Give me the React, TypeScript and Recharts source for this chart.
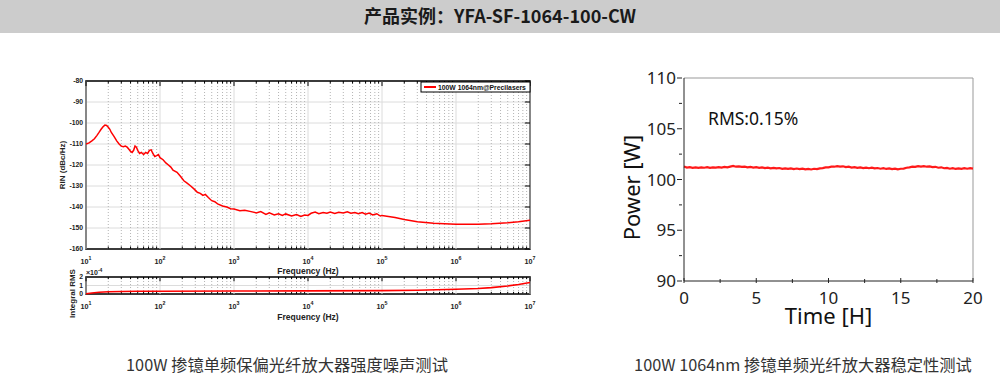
import { LineChart, Line, XAxis, YAxis, CartesianGrid, ReferenceLine, ReferenceArea, Label } from 'recharts'

// RIN spectrum, 100W amplifier
const RIN_FREQ = [
  10, 11, 12, 13, 14, 15, 16, 17, 18, 19,
  20, 21, 22, 24, 26, 28, 30, 32, 34, 36,
  38, 40, 42, 44, 46, 48, 50, 53, 56, 60,
  64, 68, 72, 76, 80, 85, 90, 95, 100, 110,
  120, 130, 140, 150, 170, 190, 210, 230, 260, 290,
  320, 350, 380, 410, 450, 500, 550, 600, 700, 800,
  900, 1000, 1200, 1400, 1700, 2000, 2300, 2700, 3000, 3500,
  4000, 4500, 5000, 6000, 7000, 8000, 9000, 10000, 11000, 12500,
  14000, 16000, 18000, 20000, 23000, 26000, 30000, 34000, 38000, 43000,
  48000, 54000, 60000, 67000, 75000, 85000, 95000, 100000, 150000, 200000,
  300000, 500000, 700000, 1e6, 1.5e6, 2e6, 3e6, 5e6, 7e6, 1e7,
]
const RIN_DB = [
  -110, -109.5, -108.5, -107.5, -106, -104.5, -103, -101.8, -101, -101.2,
  -102, -103, -104.5, -106.5, -108.5, -110, -111, -111.3, -111, -111.5,
  -112.5, -113.5, -114, -113, -111, -111.5, -113, -114.5, -114, -115,
  -114, -114.5, -113, -112.8, -114.5, -116, -115.5, -115, -116.5, -117.5,
  -119, -120, -121, -122.5, -123.5, -125.5, -127.5, -128.5, -130, -131.5,
  -133, -133.5, -134.5, -134, -135.5, -137, -137.5, -138.5, -139.5, -140,
  -140.8, -141, -141.8, -141.5, -142.2, -142.8, -142.2, -143.5, -142.8, -143.8,
  -143.2, -144, -143.3, -144.3, -143.6, -144.5, -143.8, -144, -143, -142.4,
  -143.2, -142.6, -143, -142.4, -143.1, -142.5, -142.9, -142.3, -143, -142.6,
  -143.2, -142.6, -143.4, -142.9, -143.8, -143.2, -144.3, -144, -145, -146,
  -147, -147.7, -148, -148.2, -148.2, -148.2, -148, -147.5, -147, -146.3,
]

// integrated RMS (x1e-4)
const RMS_FREQ = [10, 12, 15, 20, 30, 50, 100, 1e3, 1e4, 1e5, 3e5, 1e6, 2e6, 3e6, 5e6, 7e6, 1e7]
const RMS_VAL = [0.02, 0.12, 0.2, 0.26, 0.3, 0.32, 0.33, 0.35, 0.37, 0.4, 0.45, 0.55, 0.65, 0.75, 0.95, 1.12, 1.35]

const DECADES = [10, 100, 1e3, 1e4, 1e5, 1e6, 1e7]
const MINOR = DECADES.slice(0, -1).flatMap(d => [2, 3, 4, 5, 6, 7, 8, 9].map(k => k * d))
const RIN_TICKS = [-160, -150, -140, -130, -120, -110, -100, -90, -80]
const RMS_TICKS = [0, 1, 2]

// power stability, one sample every 0.2 h
const POWER = [
  101.28, 101.18, 101.22, 101.15, 101.2, 101.14, 101.19, 101.16, 101.21, 101.15,
  101.2, 101.17, 101.22, 101.18, 101.24, 101.2, 101.27, 101.33, 101.26, 101.3,
  101.24, 101.27, 101.2, 101.24, 101.17, 101.21, 101.14, 101.19, 101.12, 101.17,
  101.1, 101.15, 101.09, 101.13, 101.05, 101.1, 101.04, 101.09, 101.03, 101.08,
  101.02, 101.07, 101.0, 101.05, 100.99, 101.06, 101.03, 101.1, 101.12, 101.19,
  101.2, 101.27, 101.26, 101.32, 101.27, 101.3, 101.23, 101.26, 101.18, 101.22,
  101.15, 101.19, 101.13, 101.17, 101.11, 101.16, 101.09, 101.13, 101.06, 101.11,
  101.04, 101.09, 101.02, 101.07, 101.0, 101.06, 101.08, 101.16, 101.2, 101.26,
  101.24, 101.31, 101.27, 101.32, 101.26, 101.29, 101.22, 101.25, 101.16, 101.2,
  101.11, 101.15, 101.06, 101.11, 101.04, 101.1, 101.05, 101.11, 101.06, 101.12,
  101.07,
]
const TIME_TICKS = [0, 2.5, 5, 7.5, 10, 12.5, 15, 17.5, 20]
const POWER_TICKS = [90, 92.5, 95, 97.5, 100, 102.5, 105, 107.5, 110]

const ARIAL = '"Liberation Sans", Arial, sans-serif'
const NOTO = '"Noto Sans", sans-serif'
const CJK = '"Noto Sans CJK SC", "Noto Sans", sans-serif'

const rinData = RIN_FREQ.map((f, i) => ({ f, v: RIN_DB[i] }))
const rmsData = RMS_FREQ.map((f, i) => ({ f, v: RMS_VAL[i] }))
const powerData = POWER.map((p, i) => ({ t: i * 0.2, p }))

function LogTick({ x, y, payload }: any) {
  const exp = Math.round(Math.log10(payload.value))
  return (
    <text x={x} y={y + 13} textAnchor="middle" fontSize={7.2} fontWeight="bold" fill="#222" fontFamily={ARIAL}>
      10<tspan dy={-4} fontSize={5.3}>{exp}</tspan>
    </text>
  )
}

function TimeTick({ x, y, payload }: any) {
  const major = payload.value % 5 === 0
  return (
    <g>
      <line x1={x} x2={x} y1={y} y2={y - (major ? 5 : 4)} stroke="#222" />
      {major && <text x={x} y={y + 21} textAnchor="middle" fontSize={17} fill="#222" fontFamily={NOTO}>{payload.value}</text>}
    </g>
  )
}

function PowerTick({ x, y, payload }: any) {
  const major = payload.value % 5 === 0
  return (
    <g>
      <line x1={x} x2={x - (major ? 5 : 3)} y1={y} y2={y} stroke="#222" />
      {major && <text x={x - 6} y={y + 6} textAnchor="end" fontSize={17} fill="#222" fontFamily={NOTO}>{payload.value}</text>}
    </g>
  )
}

// grid + inward ticks shared by the two log plots
function logDecor(yMin: number, yMax: number, tickLen: number) {
  return [
    ...DECADES.map(d => <ReferenceLine key={'d' + d} x={d} stroke="#dcdcdc" strokeWidth={1} />),
    ...MINOR.map(m => <ReferenceLine key={'m' + m} x={m} stroke="#b4b4b4" strokeDasharray="1 2" />),
    ...MINOR.map(m => <ReferenceLine key={'tt' + m} segment={[{ x: m, y: yMax }, { x: m, y: yMax - tickLen }]} stroke="#000" />),
    ...MINOR.map(m => <ReferenceLine key={'tb' + m} segment={[{ x: m, y: yMin }, { x: m, y: yMin + tickLen }]} stroke="#000" />),
    ...DECADES.map(d => <ReferenceLine key={'dt' + d} segment={[{ x: d, y: yMax }, { x: d, y: yMax - tickLen * 2 }]} stroke="#000" />),
    <ReferenceArea key="frame" x1={10} x2={1e7} y1={yMin} y2={yMax} fill="none" stroke="#000" strokeWidth={1.6} />,
  ]
}

export default function App() {
  return (
    <div style={{ position: 'absolute', left: 0, top: 0, width: 1000, height: 375, background: '#fff', overflow: 'hidden' }}>
      <div style={{ position: 'absolute', left: 0, top: 0, width: 1000, height: 33, background: '#cccccc' }} />

      {/* RIN spectrum */}
      <div style={{ position: 'absolute', left: 0, top: 60 }}>
        <LineChart width={560} height={220} data={rinData} margin={{ top: 21, right: 30, left: 0, bottom: 0 }}>
          <CartesianGrid vertical={false} stroke="#dcdcdc" />
          <XAxis dataKey="f" type="number" scale="log" domain={[10, 1e7]} ticks={DECADES} allowDataOverflow
            height={31} axisLine={false} tickLine={false} tickSize={0} tick={<LogTick />} interval={0}>
            <Label value="Frequency (Hz)" position="center" dy={6} fontSize={8.5} fontWeight="bold" fill="#222" stroke="none" fontFamily={ARIAL} />
          </XAxis>
          <YAxis type="number" domain={[-160, -80]} ticks={RIN_TICKS} width={86} axisLine={false} tickLine={false}
            tickSize={0} tickMargin={3} interval={0} tick={{ fontSize: 6.8, fontWeight: 'bold', fill: '#222', fontFamily: ARIAL }}>
            <Label value="RIN (dBc/Hz)" angle={-90} position="center" dx={19} fontSize={8} fontWeight="bold" fill="#222" stroke="none" fontFamily={ARIAL} />
          </YAxis>
          {logDecor(-160, -80, 1.2)}
          {RIN_TICKS.map(t => <ReferenceLine key={'rt' + t} segment={[{ x: 8.5e6, y: t }, { x: 1e7, y: t }]} stroke="#000" />)}
          <Line dataKey="v" stroke="#ff0000" strokeWidth={1.5} dot={false} isAnimationActive={false} />
        </LineChart>
      </div>

      {/* integral RMS */}
      <div style={{ position: 'absolute', left: 0, top: 262 }}>
        <LineChart width={560} height={64} data={rmsData} margin={{ top: 15, right: 30, left: 0, bottom: 0 }}>
          <CartesianGrid vertical={false} stroke="#dcdcdc" />
          <XAxis dataKey="f" type="number" scale="log" domain={[10, 1e7]} ticks={DECADES} allowDataOverflow
            height={32} axisLine={false} tickLine={false} tickSize={0} tick={<LogTick />} interval={0}>
            <Label value="Frequency (Hz)" position="center" dy={7} fontSize={8.5} fontWeight="bold" fill="#222" stroke="none" fontFamily={ARIAL} />
          </XAxis>
          <YAxis type="number" domain={[0, 2]} ticks={RMS_TICKS} width={86} axisLine={false} tickLine={false}
            tickSize={0} tickMargin={3} interval={0} tick={{ fontSize: 6.8, fontWeight: 'bold', fill: '#222', fontFamily: ARIAL }}>
            <Label value="Integral RMS" angle={-90} position="center" dx={29} dy={8} fontSize={8} fontWeight="bold" fill="#222" stroke="none" fontFamily={ARIAL} />
          </YAxis>
          {logDecor(0, 2, 0.25)}
          <Line dataKey="v" stroke="#ff0000" strokeWidth={1.6} dot={false} isAnimationActive={false} />
        </LineChart>
      </div>

      {/* power stability */}
      <div style={{ position: 'absolute', left: 600, top: 60 }}>
        <LineChart width={400} height={280} data={powerData} margin={{ top: 18, right: 27, left: 0, bottom: 0 }}>
          <XAxis dataKey="t" type="number" domain={[0, 20]} ticks={TIME_TICKS} interval={0} height={59}
            axisLine={{ stroke: '#222' }} tickLine={false} tickSize={0} tick={<TimeTick />}>
            <Label value="Time [H]" position="center" dy={6} fontSize={22} fill="#111" stroke="none" fontFamily={NOTO} />
          </XAxis>
          <YAxis type="number" domain={[90, 110]} ticks={POWER_TICKS} interval={0} width={84}
            axisLine={{ stroke: '#222' }} tickLine={false} tickSize={0} tick={<PowerTick />}>
            <Label value="Power [W]" angle={-90} position="center" dx={-10} dy={8} fontSize={22} fill="#111" stroke="none" fontFamily={NOTO} />
          </YAxis>
          <ReferenceLine y={110} stroke="#999" />
          <ReferenceLine x={20} stroke="#999" />
          <Line dataKey="p" stroke="#ff1a1a" strokeWidth={2.2} dot={false} isAnimationActive={false} />
        </LineChart>
      </div>

      <svg width={1000} height={375} style={{ position: 'absolute', left: 0, top: 0, pointerEvents: 'none' }}>
        <text x={500} y={23} textAnchor="middle" fontSize={18} fontWeight="bold" fill="#1a1a1a" fontFamily={CJK}>
          产品实例：YFA-SF-1064-100-CW
        </text>
        <rect x={421} y={82} width={109} height={10} fill="#fff" stroke="#000" strokeWidth={1} />
        <line x1={424} x2={436} y1={87} y2={87} stroke="#ff0000" strokeWidth={2} />
        <text x={438} y={90} fontSize={6.8} fontWeight="bold" fill="#111" fontFamily={ARIAL}>100W 1064nm@Precilasers</text>
        <text x={86} y={275} fontSize={7} fontWeight="bold" fill="#222" fontFamily={ARIAL}>
          ×10<tspan dy={-3} fontSize={5}>-4</tspan>
        </text>
        <text x={708} y={125} fontSize={17.5} fill="#111" fontFamily={NOTO}>RMS:0.15%</text>
        <text x={287} y={371} textAnchor="middle" fontSize={16.3} fill="#333" fontFamily={CJK}>100W 掺镱单频保偏光纤放大器强度噪声测试</text>
        <text x={803} y={371} textAnchor="middle" fontSize={16.3} fill="#333" fontFamily={CJK}>100W 1064nm 掺镱单频光纤放大器稳定性测试</text>
      </svg>
    </div>
  )
}
